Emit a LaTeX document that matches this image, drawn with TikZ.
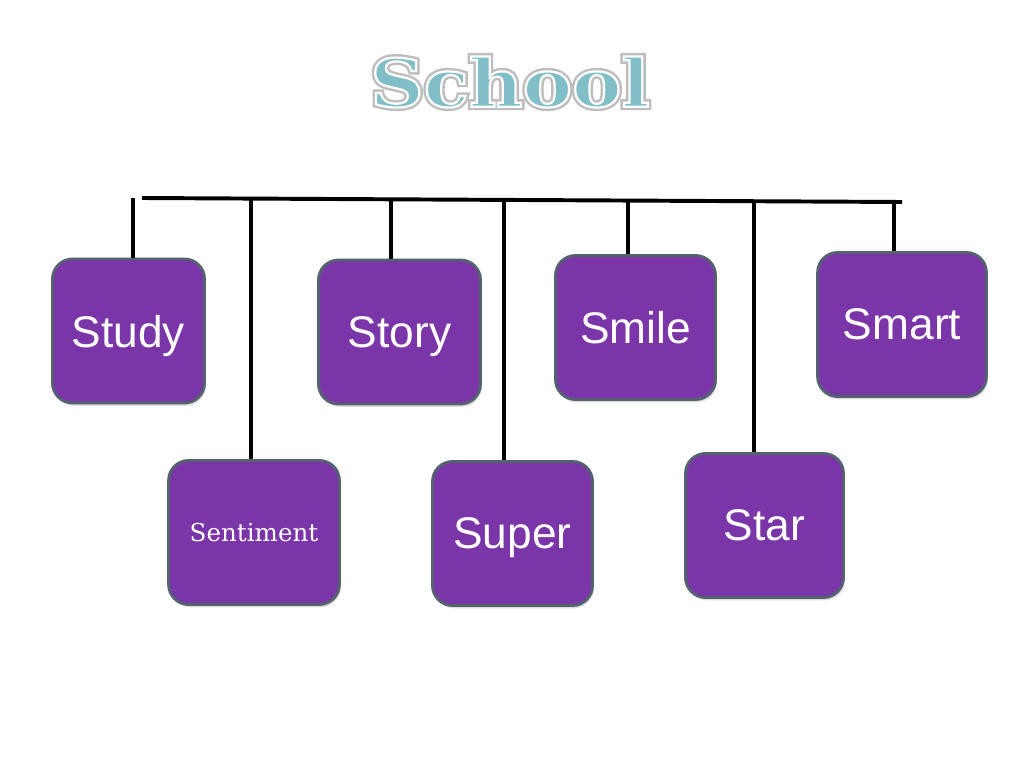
\documentclass[tikz,border=0pt]{standalone}
\usepackage{fontspec}
\setmainfont{Liberation Sans}
\newfontfamily\titlefont{DejaVu Serif}[FakeStretch=1.12]
\newfontfamily\serifword{DejaVu Serif}
\usetikzlibrary{shadows}
\definecolor{boxpurple}{RGB}{122,53,168}
\definecolor{boxedge}{RGB}{84,98,112}
\definecolor{titleteal}{RGB}{128,190,200}
\definecolor{glowgray}{gray}{0.72}
% outlined text: fill in the current colour, stroke in grey #1 with width #2
\newcommand{\outlined}[3]{\special{pdf:code 2 Tr #2 w #1 G}#3\special{pdf:code 0 Tr}}

\begin{document}
\begin{tikzpicture}[x=0.025cm, y=-0.025cm,
  word/.style={draw=boxedge, fill=boxpurple, line width=2pt, rounded corners=0.5cm,
    text=white, font=\fontsize{31.5}{36}\selectfont, minimum height=3.6cm, text depth=0pt,
    drop shadow={opacity=0.25, shadow xshift=1pt, shadow yshift=-2pt}},
  stem/.style={black, line width=2.8pt},
  title/.style={font=\titlefont\bfseries\fontsize{47}{50}\selectfont}]

  \fill[white] (0, 0) rectangle (1024, 768);
  \useasboundingbox (0, 0) rectangle (1024, 768);

  % title: grey glow under a white rimmed teal word
  \node[title, text=glowgray] (glow) at (510, 82) { \outlined{0.74}{5}{School} };
  \node[title, text=titleteal] (title) at (510, 82) { \outlined{1}{1.6}{School} };

  % boxes, upper row
  \node[word, minimum width=3.8cm] (study) at (128.5, 331) { Study };
  \node[word, minimum width=4.05cm] (story) at (399.5, 332) { Story };
  \node[word, minimum width=4.0cm] (smile) at (635.5, 327.5) { Smile };
  \node[word, minimum width=4.22cm] (smart) at (902, 324.5) { Smart };

  % boxes, lower row
  \node[word, minimum width=4.27cm, font=\serifword\fontsize{17.5}{20}\selectfont] (sentiment) at (254, 532.5) { Sentiment };
  \node[word, minimum width=4.0cm] (super) at (512.5, 533.5) { Super };
  \node[word, minimum width=3.95cm] (star) at (764.5, 525.5) { Star };

  % the bar and its stems
  \coordinate (barL) at (142, 198);
  \coordinate (barR) at (902, 202);
  \draw[stem] (barL) -- (barR);

  \coordinate (tstudy) at (133, 198);
  \coordinate (tsentiment) at (251, 199);
  \coordinate (tstory) at (391, 200);
  \coordinate (tsuper) at (504, 200);
  \coordinate (tsmile) at (628, 201);
  \coordinate (tstar) at (754, 201);
  \coordinate (tsmart) at (894, 202);

  \foreach \w in {study,sentiment,story,super,smile,star,smart} {
    \draw[stem] (t\w) -- (\w.north -| t\w);
  }

\end{tikzpicture}
\end{document}
